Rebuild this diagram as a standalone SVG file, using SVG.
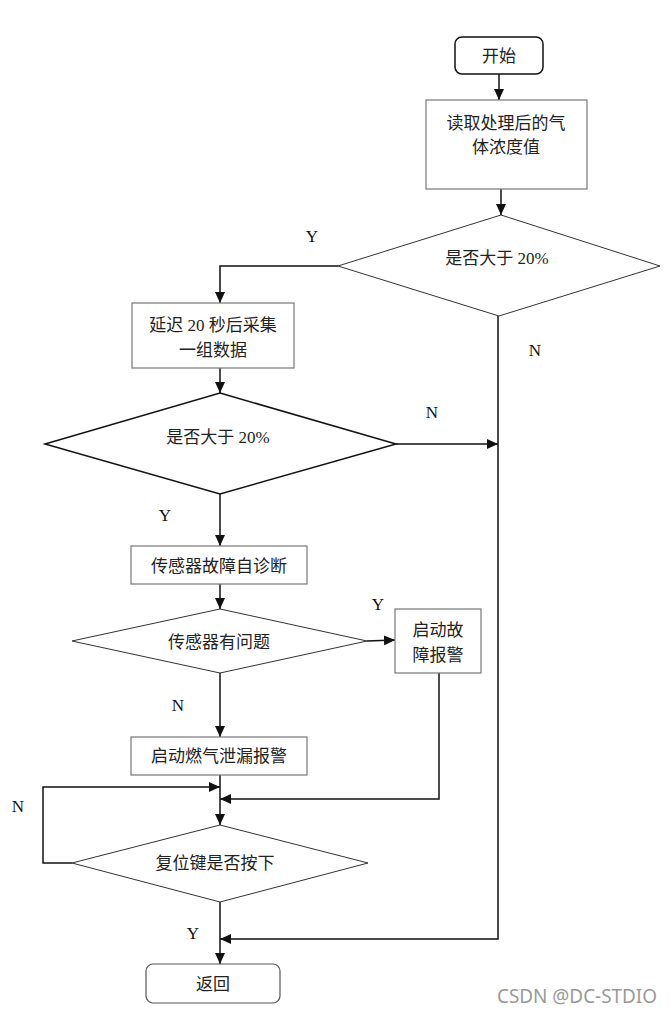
<svg xmlns="http://www.w3.org/2000/svg" width="671" height="1013" viewBox="0 0 671 1013">
<style>
text{font-family:"Liberation Serif","Noto Sans CJK SC",serif;font-size:17px;fill:#222;text-anchor:middle;dominant-baseline:central}
.lbl{font-size:17px;fill:#111}
.box{fill:#fff;stroke:#777;stroke-width:1.2}
.term{fill:#fff;stroke:#111;stroke-width:1.5}
.dia{fill:#fff;stroke:#333;stroke-width:1}
.dia2{fill:#fff;stroke:#111;stroke-width:1.5}
.c{fill:none;stroke:#111;stroke-width:1.5}
.wm{font-family:"Noto Sans","DejaVu Sans",sans-serif;font-size:19px;fill:#999;text-anchor:start}
</style>
<defs>
<marker id="a" markerUnits="userSpaceOnUse" markerWidth="12" markerHeight="10" refX="11" refY="5" orient="auto">
<path d="M0,0 L11,5 L0,10 Z" fill="#111"/>
</marker>
</defs>
<g id="connectors">
<path class="c" d="M499,74 V100" marker-end="url(#a)"/>
<path class="c" d="M501,189 V215" marker-end="url(#a)"/>
<path class="c" d="M338,266 H220 V303" marker-end="url(#a)"/>
<path class="c" d="M498,316 V939 H220" marker-end="url(#a)"/>
<path class="c" d="M220,368 V393" marker-end="url(#a)"/>
<path class="c" d="M396,444 H498" marker-end="url(#a)"/>
<path class="c" d="M220,494 V546" marker-end="url(#a)"/>
<path class="c" d="M220,584 V609" marker-end="url(#a)"/>
<path class="c" d="M367,641 L395,640" marker-end="url(#a)"/>
<path class="c" d="M220,673 V737" marker-end="url(#a)"/>
<path class="c" d="M220,775 V825" marker-end="url(#a)"/>
<path class="c" d="M439,673 V799 H220" marker-end="url(#a)"/>
<path class="c" d="M72,863 H43 V787 H220" marker-end="url(#a)"/>
<path class="c" d="M220,902 V964" marker-end="url(#a)"/>
</g>
<g id="start"><rect class="term" x="455" y="37" width="88" height="37" rx="7"/><text x="499" y="56">开始</text></g>
<g id="read"><rect class="box" x="426" y="100" width="161" height="89"/><text x="506" y="123">读取处理后的气</text><text x="506" y="147">体浓度值</text></g>
<g id="d1"><polygon class="dia" points="501,215 660,266 499,316 338,266"/><text x="497" y="258">是否大于 20%</text></g>
<g id="delay"><rect class="box" x="132" y="303" width="162" height="65"/><text x="213" y="325">延迟 20 秒后采集</text><text x="213" y="350">一组数据</text></g>
<g id="d2"><polygon class="dia2" points="220,393 396,444 220,494 45,444"/><text x="218" y="437">是否大于 20%</text></g>
<g id="diag"><rect class="box" x="131" y="546" width="176" height="38"/><text x="219" y="566">传感器故障自诊断</text></g>
<g id="d3"><polygon class="dia" points="220,609 367,641 220,673 72,641"/><text x="219" y="642">传感器有问题</text></g>
<g id="fault"><rect class="box" x="395" y="609" width="86" height="64"/><text x="438" y="630">启动故</text><text x="438" y="655">障报警</text></g>
<g id="leak"><rect class="box" x="131" y="737" width="176" height="38"/><text x="219" y="756">启动燃气泄漏报警</text></g>
<g id="d4"><polygon class="dia" points="220,825 368,863 220,902 72,863"/><text x="215" y="863">复位键是否按下</text></g>
<g id="ret"><rect class="box" x="146" y="964" width="134" height="39" rx="7" style="stroke:#555"/><text x="213" y="984">返回</text></g>
<g id="labels">
<text class="lbl" x="312" y="236">Y</text>
<text class="lbl" x="535" y="350">N</text>
<text class="lbl" x="432" y="412">N</text>
<text class="lbl" x="165" y="515">Y</text>
<text class="lbl" x="378" y="604">Y</text>
<text class="lbl" x="178" y="705">N</text>
<text class="lbl" x="18" y="806">N</text>
<text class="lbl" x="193" y="933">Y</text>
</g>
<text class="wm" x="497" y="996" textLength="160" lengthAdjust="spacingAndGlyphs">CSDN @DC-STDIO</text>
</svg>
